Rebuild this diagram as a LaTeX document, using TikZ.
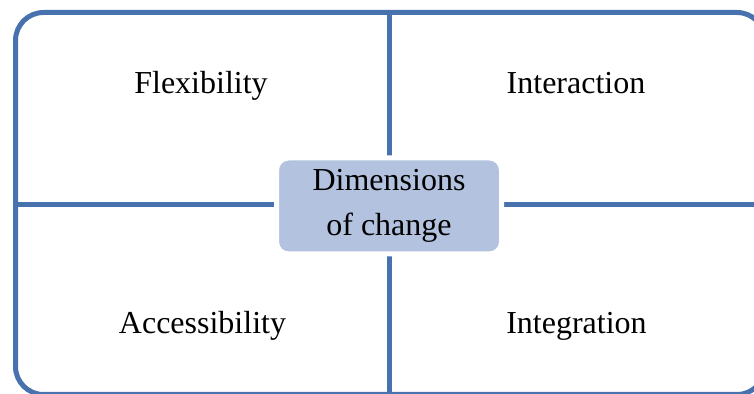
\documentclass[tikz,border=0pt]{standalone}
\usepackage{fontspec}
\setmainfont{Liberation Serif}
\usepackage{xcolor}
\usetikzlibrary{positioning}
\definecolor{frameblue}{RGB}{72,114,174}
\definecolor{boxfill}{RGB}{179,195,223}
\begin{document}
\begin{tikzpicture}[x=0.5pt,y=-0.5pt]
\tikzstyle{frame}=[frameblue,line width=2.5pt]
\tikzstyle{every node}+=[font=\fontsize{16}{22.5}\selectfont]
\tikzstyle{dimbox}=[fill=boxfill,draw=white,line width=2.5pt,rounded corners=6pt,
  minimum width=112.5pt,minimum height=48pt,align=center,inner sep=0pt]
\useasboundingbox (0,0) rectangle (754,394);
% outer frame and cross
\draw [frame,rounded corners=14pt] (15.5,12.5) rectangle (765,394.5);
\coordinate (top) at (389,12.5);
\coordinate (bot) at (389,400);
\coordinate (lft) at (15.5,205);
\coordinate (rgt) at (765,205);
\draw [frame] (top) -- (bot);
\draw [frame] (lft) -- (rgt);
% centre
\node [dimbox] (dims) at (389,206) {Dimensions\\of change};
% quadrants
\node [anchor=base] (flex) at (201,93.5) {Flexibility};
\node [anchor=base] (inter) at (576,93.5) {Interaction};
\node [anchor=base] (access) at (202.5,334) {Accessibility};
\node [anchor=base] (integ) at (576.5,334) {Integration};
\end{tikzpicture}
\end{document}
